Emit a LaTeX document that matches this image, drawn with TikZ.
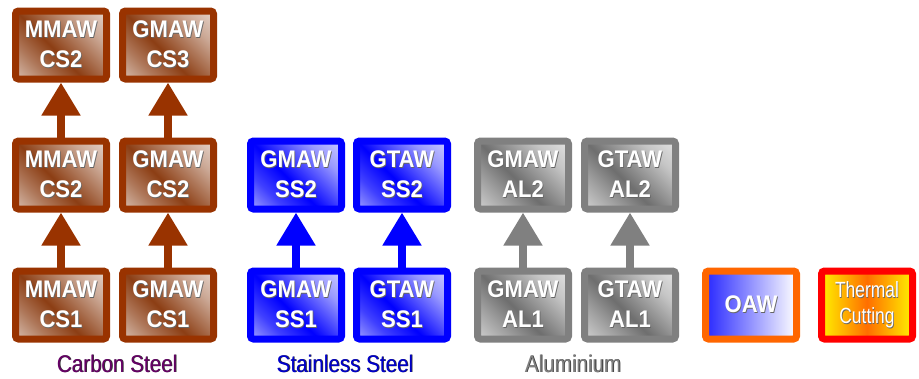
\documentclass[tikz,border=0pt]{standalone}
\usepackage{fontspec}
\setmainfont{Liberation Sans}
\usetikzlibrary{arrows.meta}
\definecolor{csbrown}{RGB}{153,51,0}
\definecolor{csfillc}{RGB}{140,62,20}
\definecolor{ssblue}{RGB}{0,0,255}
\definecolor{alborder}{RGB}{128,128,128}
\definecolor{alfillc}{RGB}{110,110,110}
\definecolor{oawborder}{RGB}{255,102,0}
\definecolor{oawblue}{RGB}{40,40,255}
\definecolor{tcred}{RGB}{255,0,0}
\definecolor{tcyellow}{RGB}{255,240,0}
\definecolor{tcorange}{RGB}{255,110,0}
\definecolor{cslabel}{RGB}{102,0,102}
\definecolor{sslabel}{RGB}{0,0,204}
\definecolor{allabel}{RGB}{128,128,128}
\pgfdeclarehorizontalshading{csshade}{100bp}{color(0bp)=(white); color(30bp)=(white!30!csfillc); color(45bp)=(csfillc); color(70bp)=(white!55!csfillc); color(100bp)=(white)}
\pgfdeclarehorizontalshading{ssshade}{100bp}{color(0bp)=(white); color(30bp)=(white!25!ssblue); color(45bp)=(ssblue); color(70bp)=(white!60!ssblue); color(100bp)=(white)}
\pgfdeclarehorizontalshading{alshade}{100bp}{color(0bp)=(white); color(30bp)=(white!35!alfillc); color(45bp)=(alfillc); color(70bp)=(white!60!alfillc); color(100bp)=(white)}
\newcommand{\sh}[1]{\scalebox{0.92}[1]{\rlap{\hspace{0.8pt}\raisebox{-0.8pt}{\color{black!60}#1}}#1}}
\newcommand{\shl}[1]{\scalebox{0.86}[1]{\rlap{\hspace{0.9pt}\raisebox{-0.9pt}{\color{black!80}#1}}#1}}
\tikzset{
  box/.style={line width=7pt, rounded corners=3pt, minimum width=91pt, minimum height=68pt,
    inner sep=0pt, align=center, text=white, shading angle=45,
    font=\fontsize{24}{30}\selectfont\bfseries},
  csbox/.style={box, draw=csbrown, shading=csshade},
  ssbox/.style={box, draw=ssblue, shading=ssshade},
  albox/.style={box, draw=alborder, shading=alshade},
  oawbox/.style={box, draw=oawborder, left color=oawblue, right color=white, shading angle=90},
  tcbox/.style={box, draw=tcred, left color=tcyellow, right color=tcyellow, middle color=tcorange, shading angle=90,
    font=\fontsize{22}{26}\selectfont},
  up/.style={line width=8pt, -{Triangle[width=37pt,length=33pt]}},
  mlabel/.style={font=\fontsize{24}{26}\selectfont, anchor=base, inner sep=0pt}
}
\begin{document}
\begin{tikzpicture}[x=1pt,y=-1pt]
\useasboundingbox (0,0) rectangle (919,378);
% Carbon steel
\node[csbox] (cs2m) at (61,45) {\sh{MMAW}\\\sh{CS2}};
\node[csbox] (cs3g) at (168,45) {\sh{GMAW}\\\sh{CS3}};
\node[csbox] (cs2mm) at (61,175) {\sh{MMAW}\\\sh{CS2}};
\node[csbox] (cs2g) at (168,175) {\sh{GMAW}\\\sh{CS2}};
\node[csbox] (cs1m) at (61,305) {\sh{MMAW}\\\sh{CS1}};
\node[csbox] (cs1g) at (168,305) {\sh{GMAW}\\\sh{CS1}};
\draw[up, csbrown] (cs1m.north) -- (cs2mm.south);
\draw[up, csbrown] (cs2mm.north) -- (cs2m.south);
\draw[up, csbrown] (cs1g.north) -- (cs2g.south);
\draw[up, csbrown] (cs2g.north) -- (cs3g.south);
% Stainless steel
\node[ssbox] (ss2g) at (296,175) {\sh{GMAW}\\\sh{SS2}};
\node[ssbox] (ss2t) at (402,175) {\sh{GTAW}\\\sh{SS2}};
\node[ssbox] (ss1g) at (296,305) {\sh{GMAW}\\\sh{SS1}};
\node[ssbox] (ss1t) at (402,305) {\sh{GTAW}\\\sh{SS1}};
\draw[up, ssblue] (ss1g.north) -- (ss2g.south);
\draw[up, ssblue] (ss1t.north) -- (ss2t.south);
% Aluminium
\node[albox] (al2g) at (523,175) {\sh{GMAW}\\\sh{AL2}};
\node[albox] (al2t) at (630,175) {\sh{GTAW}\\\sh{AL2}};
\node[albox] (al1g) at (523,305) {\sh{GMAW}\\\sh{AL1}};
\node[albox] (al1t) at (630,305) {\sh{GTAW}\\\sh{AL1}};
\draw[up, alborder] (al1g.north) -- (al2g.south);
\draw[up, alborder] (al1t.north) -- (al2t.south);
% OAW and thermal cutting
\node[oawbox] (oaw) at (751,305) {\sh{OAW}};
\node[tcbox] (tc) at (867,305) {\scalebox{0.86}[1]{\sh{Thermal}}\\\scalebox{0.86}[1]{\sh{Cutting}}};
% labels
\node[mlabel, text=cslabel] (lcs) at (117,372) {\shl{Carbon Steel}};
\node[mlabel, text=sslabel] (lss) at (345,372) {\shl{Stainless Steel}};
\node[mlabel, text=allabel] (lal) at (573,372) {\shl{Aluminium}};
\end{tikzpicture}
\end{document}
